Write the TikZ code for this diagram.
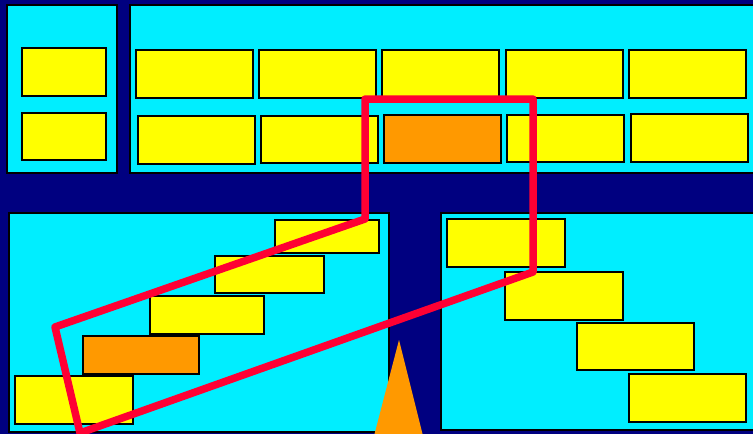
\documentclass[tikz,border=0pt]{standalone}
\begin{document}
\begin{tikzpicture}[x=1pt,y=-1pt,
  panel/.style={fill=panelcyan,draw=black,line width=2.5pt},
  ybox/.style={fill=boxyellow,draw=black,line width=2.5pt},
  obox/.style={fill=boxorange,draw=black,line width=2.5pt},
  redline/.style={draw=loopred,line width=7.5pt,line join=round}]
\definecolor{bgnavy}{RGB}{0,0,128}
\definecolor{panelcyan}{RGB}{0,238,255}
\definecolor{boxyellow}{RGB}{255,255,0}
\definecolor{boxorange}{RGB}{255,153,0}
\definecolor{loopred}{RGB}{255,0,51}
\useasboundingbox (0,0) rectangle (753,434);
\fill[bgnavy] (0,0) rectangle (753,434);
% panels
\path[panel] (7,5) rectangle (117,173);
\path[panel] (130,5) rectangle (760,173);
\path[panel] (9,213) rectangle (389,432);
\path[panel] (441,213) rectangle (760,430);
% top-left boxes
\path[ybox] (22,48) rectangle (106,96);
\path[ybox] (22,113) rectangle (106,160);
% top row 1
\path[ybox] (136,50) rectangle (253,98);
\path[ybox] (259,50) rectangle (376,98);
\path[ybox] (382,50) rectangle (499,98);
\path[ybox] (506,50) rectangle (623,98);
\path[ybox] (629,50) rectangle (746,98);
% top row 2
\path[ybox] (138,116) rectangle (255,164);
\path[ybox] (261,116) rectangle (378,163);
\path[obox] (384,115) rectangle (501,163);
\path[ybox] (507,115) rectangle (624,162);
\path[ybox] (631,114) rectangle (748,162);
% bottom-left staircase
\path[ybox] (275,220) rectangle (379,253);
\path[ybox] (215,256) rectangle (324,293);
\path[ybox] (150,296) rectangle (264,334);
\path[obox] (83,336) rectangle (199,374);
\path[ybox] (15,376) rectangle (133,424);
% bottom-right staircase
\path[ybox] (447,219) rectangle (565,267);
\path[ybox] (505,272) rectangle (623,320);
\path[ybox] (577,323) rectangle (694,370);
\path[ybox] (629,374) rectangle (746,422);
% triangle
\fill[boxorange] (399,340) -- (423,436) -- (374,436) -- cycle;
% red loop
\coordinate (r1) at (365,219);
\coordinate (r2) at (365,99);
\coordinate (r3) at (533,99);
\coordinate (r4) at (533,272);
\coordinate (r5) at (80,433);
\coordinate (r6) at (55,327);
\draw[redline] (r1) -- (r2) -- (r3) -- (r4) -- (r5) -- (r6) -- cycle;
\end{tikzpicture}
\end{document}
